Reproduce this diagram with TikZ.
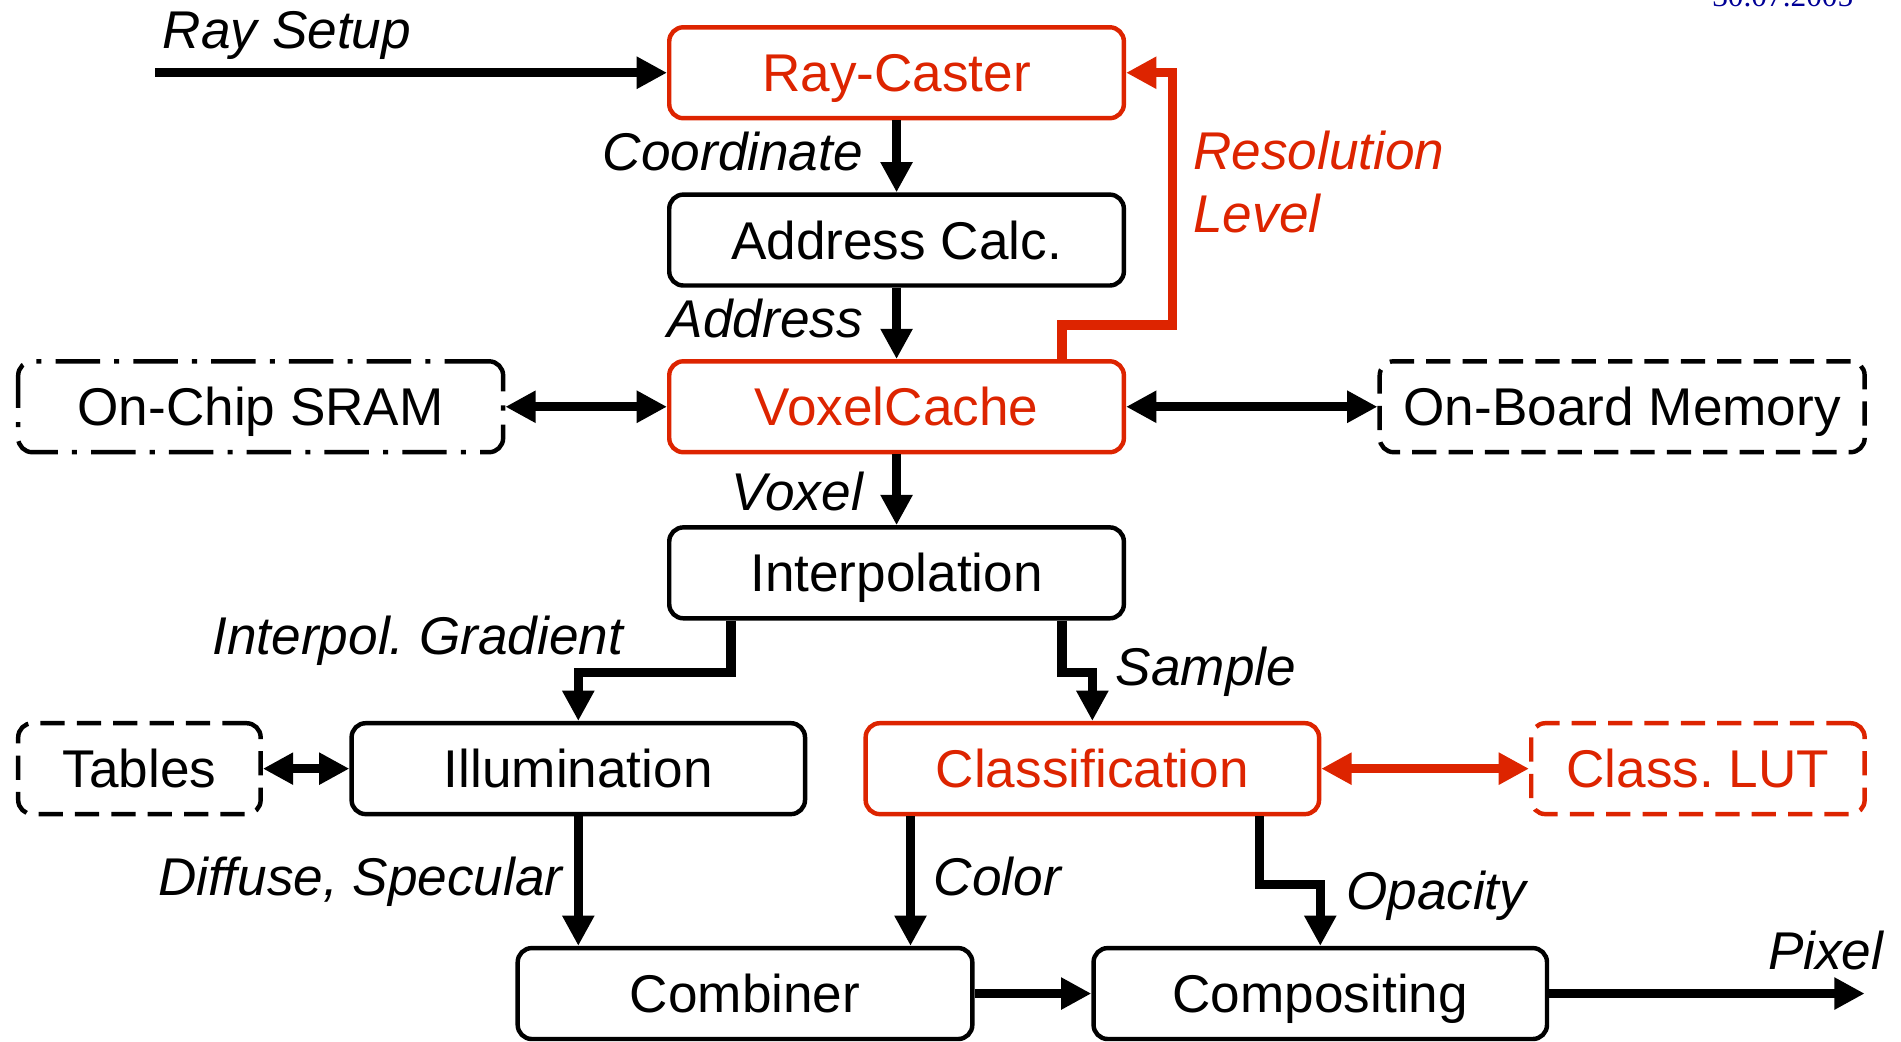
\documentclass[tikz,border=0pt]{standalone}
\usepackage{fontspec}
\setmainfont{Liberation Sans}
\newfontfamily\datefont{Liberation Serif}
\usetikzlibrary{arrows.meta,calc}
\definecolor{hwred}{RGB}{221,36,0}
\definecolor{datenavy}{RGB}{0,0,150}
\frenchspacing

\begin{document}
\begin{tikzpicture}[x=0.6pt,y=-0.6pt,
  font=\fontsize{26.3}{30}\selectfont,
  block/.style={draw, rounded corners=7pt, line width=2.2pt, inner sep=0pt,
    minimum height=45pt, text height=18.8pt, text depth=0pt, minimum width=#1},
  redblock/.style={block=#1, draw=hwred, text=hwred},
  memdash/.style={dash pattern=on 12pt off 6pt},
  memdashdot/.style={dash pattern=on 22pt off 7pt on 2.5pt off 7pt},
  lbl/.style={font=\fontsize{26.3}{30}\selectfont\itshape, inner sep=0pt},
  tip/.tip={Triangle[length=15pt,width=15pt]},
  arr/.style={line width=4.6pt, -tip},
  darr/.style={line width=4.6pt, tip-tip}]

\useasboundingbox (0,0) rectangle (1568,859);

% date stamp at the upper edge
\node[anchor=base west, inner sep=0pt, text=datenavy,
  font=\fontsize{15.5}{18}\selectfont\datefont] (date) at (1412,5.5) {30.07.2005};

% processing units
\node[redblock=225pt] (RC) at (739.5,60) {Ray-Caster};
\node[block=225pt] (AC) at (739.5,198) {Address Calc.};
\node[redblock=225pt] (VC) at (739.5,335.5) {VoxelCache};
\node[block=225pt] (IP) at (739.5,472.5) {Interpolation};
\node[block=224.4pt] (Ill) at (477,634) {Illumination};
\node[redblock=224.4pt] (Cls) at (901,634) {Classification};
\node[block=225pt] (Comb) at (614.5,819.5) {Combiner};
\node[block=224.4pt] (Comp) at (1089,819.5) {Compositing};

% memories
\node[block=240pt, memdashdot] (SRAM) at (215,335.5) {On-Chip SRAM};
\node[block=240pt, memdash] (OBM) at (1338,335.5) {On-Board Memory};
\node[block=120pt, memdash] (Tab) at (115,634) {Tables};
\node[redblock=165pt, memdash] (LUT) at (1400.5,634) {Class. LUT};

% pipeline connections
\coordinate (raysetup) at (128,60);
\draw[arr] (raysetup) -- (RC.west);
\draw[arr] (RC.south) -- (AC.north);
\draw[arr] (AC.south) -- (VC.north);
\draw[arr] (VC.south) -- (IP.north);
\draw[arr] ($(IP.south)+(-136.5,0)$) -- ++(0,43) -| (Ill.north);
\draw[arr] ($(IP.south)+(136.5,0)$) -- ++(0,43) -| (Cls.north);
\draw[arr] (Ill.south) -- (Ill.south |- Comb.north);
\draw[arr] ($(Cls.south)+(-150,0)$) coordinate (colsrc) -- (colsrc |- Comb.north);
\draw[arr] ($(Cls.south)+(138,0)$) -- ++(0,56) -| (Comp.north);
\draw[arr] (Comb.east) -- (Comp.west);
\coordinate (pixelout) at (1538,819.5);
\draw[arr] (Comp.east) -- (pixelout);

% memory ports
\draw[darr] (SRAM.east) -- (VC.west);
\draw[darr] (VC.east) -- (OBM.west);
\draw[darr] (Tab.east) -- (Ill.west);
\draw[darr, hwred] (Cls.east) -- (LUT.west);

% resolution feedback
\draw[arr, hwred] ($(VC.north)+(136.5,0)$) |- (967,268) |- (RC.east);

% signal labels
\node[lbl, anchor=base west] (lray) at (134,40) {Ray Setup};
\node[lbl, anchor=base east] (lcoord) at (712,141) {Coordinate};
\node[lbl, anchor=base east] (laddr) at (712,278) {Address};
\node[lbl, anchor=base east] (lvox) at (712,421) {Voxel};
\node[lbl, anchor=base west, text=hwred] (lres1) at (984,140) {Resolution};
\node[lbl, anchor=base west, text=hwred] (lres2) at (984,192) {Level};
\node[lbl, anchor=base west] (lgrad) at (175,540) {Interpol. Gradient};
\node[lbl, anchor=base west] (lsamp) at (920,565) {Sample};
\node[lbl, anchor=base west] (ldiff) at (130,739) {Diffuse, Specular};
\node[lbl, anchor=base west] (lcol) at (770,739) {Color};
\node[lbl, anchor=base west] (lopa) at (1110,750) {Opacity};
\node[lbl, anchor=base west] (lpix) at (1458,800) {Pixel};
\end{tikzpicture}
\end{document}
